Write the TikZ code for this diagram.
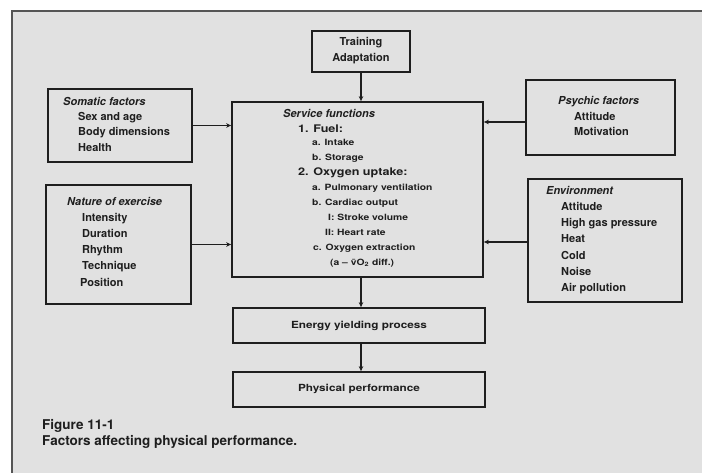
\documentclass[tikz,border=0pt]{standalone}
\usepackage{fontspec}
\setmainfont{TeX Gyre Heros}
\newfontfamily\svcfont{TeX Gyre Heros}[FakeStretch=1.2,Ligatures=TeX]
\usetikzlibrary{arrows.meta}
\definecolor{panel}{HTML}{E1E1E1}
\definecolor{ink}{HTML}{1E1E1E}
\definecolor{edge}{HTML}{555555}
\begin{document}
\begin{tikzpicture}[x=1pt,y=-1pt,
  box/.style={draw=ink,line width=1.7pt,inner sep=0pt},
  txt/.style={anchor=west,inner sep=0pt,text=ink,text height=8pt,text depth=2.5pt,font=\bfseries\fontsize{11}{13}\selectfont},
  hd/.style={txt,font=\bfseries\itshape\fontsize{11}{13}\selectfont},
  big/.style={txt,font=\svcfont\bfseries\fontsize{10.5}{13}\selectfont},
  small/.style={txt,text height=6.5pt,text depth=2pt,font=\svcfont\bfseries\fontsize{8.6}{10}\selectfont},
  ctr/.style={anchor=center,inner sep=0pt,text=ink,text height=8pt,text depth=2.5pt,font=\svcfont\bfseries\fontsize{9.8}{12}\selectfont},
  captxt/.style={anchor=west,inner sep=0pt,text=ink,text height=10pt,text depth=3pt,font=\bfseries\fontsize{13.5}{15}\selectfont},
  arr/.style={draw=ink,line width=1.7pt,-{Stealth[length=5pt,width=4.5pt]}}]
\useasboundingbox (0,0) rectangle (702,473);
\fill[white] (0,0) rectangle (702,473);
\fill[panel] (12,11) rectangle (702,473);
\draw[edge,line width=1.5pt] (12,473) -- (12,11) -- (702,11);

% boxes
\node[box,minimum width=98pt,minimum height=41pt] (train) at (361,51.5) {};
\node[box,minimum width=144pt,minimum height=73pt] (soma) at (120,125.5) {};
\node[box,minimum width=145pt,minimum height=119pt] (nat) at (118.5,244.5) {};
\node[box,minimum width=251pt,minimum height=175pt] (serv) at (357.5,189.5) {};
\node[box,minimum width=149pt,minimum height=75pt] (psy) at (600.5,117.5) {};
\node[box,minimum width=154pt,minimum height=123pt] (env) at (605,240.5) {};
\node[box,minimum width=252pt,minimum height=35pt] (energy) at (359,325.5) {};
\node[box,minimum width=252pt,minimum height=35pt] (phys) at (359,389.5) {};

% connectors
\coordinate (psyA) at ([yshift=-4.5pt]psy.west);
\coordinate (envA) at ([yshift=-1.5pt]env.west);
\draw[arr] (train.south) -- (train.south |- serv.north);
\draw[arr] (soma.east) -- (soma.east -| serv.west);
\draw[arr] (nat.east) -- (nat.east -| serv.west);
\draw[arr] (psyA) -- (psyA -| serv.east);
\draw[arr] (envA) -- (envA -| serv.east);
\draw[arr] (train.south |- serv.south) -- (train.south |- energy.north);
\draw[arr] (train.south |- energy.south) -- (train.south |- phys.north);

% Training
\node[ctr,font=\bfseries\fontsize{11}{13}\selectfont] (t1) at (361,43) {Training};
\node[ctr,font=\bfseries\fontsize{11}{13}\selectfont] (t2) at (361,59) {Adaptation};

% Somatic
\node[hd] (s0) at (63,103) {Somatic factors};
\node[txt] (s1) at (78,117.5) {Sex and age};
\node[txt] (s2) at (78,133) {Body dimensions};
\node[txt] (s3) at (78,148.5) {Health};

% Nature of exercise
\node[hd] (n0) at (67,203) {Nature of exercise};
\node[txt] (n1) at (82,219) {Intensity};
\node[txt] (n2) at (82,235) {Duration};
\node[txt] (n3) at (82,251) {Rhythm};
\node[txt] (n4) at (82,267) {Technique};
\node[txt] (n5) at (80,284) {Position};

% Psychic
\node[hd] (p0) at (558,102) {Psychic factors};
\node[txt] (p1) at (574,117.5) {Attitude};
\node[txt] (p2) at (574,133) {Motivation};

% Environment
\node[hd] (e0) at (546,192) {Environment};
\node[txt] (e1) at (561,207.5) {Attitude};
\node[txt] (e2) at (561,223.5) {High gas pressure};
\node[txt] (e3) at (561,240) {Heat};
\node[txt] (e4) at (561,256.5) {Cold};
\node[txt] (e5) at (561,272.5) {Noise};
\node[txt] (e6) at (561,288.5) {Air pollution};

% Service functions
\node[hd] (f0) at (283,115) {Service functions};
\node[big] (f1) at (298,129.5) {1. Fuel:};
\node[small] (f2) at (312,143.5) {a. Intake};
\node[small] (f3) at (312,158) {b. Storage};
\node[big] (f4) at (298,173) {2. Oxygen uptake:};
\node[small] (f5) at (312,188) {a. Pulmonary ventilation};
\node[small] (f6) at (312,203) {b. Cardiac output};
\node[small] (f7) at (328,218) {I: Stroke volume};
\node[small] (f8) at (325,233) {II: Heart rate};
\node[small] (f9) at (313,248) {c. Oxygen extraction};
\node[small] (f10) at (330,263) {(a – \={v}O\textsubscript{2} diff.)};

% lower boxes
\node[ctr] (g1) at (359,325.5) {Energy yielding process};
\node[ctr] (h1) at (359,389) {Physical performance};

% caption
\node[captxt] (c1) at (42,426) {Figure 11-1};
\node[captxt] (c2) at (42,441.5) {Factors affecting physical performance.};
\end{tikzpicture}
\end{document}
